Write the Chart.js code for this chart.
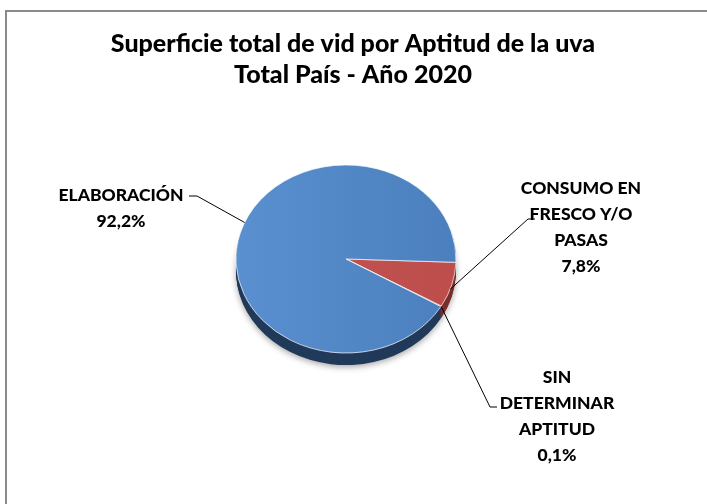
<!DOCTYPE html>
<html>
<head>
<meta charset="utf-8">
<script src="https://cdn.jsdelivr.net/npm/chart.js@4"></script>
<style>
  html, body { margin: 0; padding: 0; background: #fff; }
</style>
</head>
<body>
<canvas id="pieChart" width="707" height="504"></canvas>
<script>
const categories = [['CONSUMO EN', 'FRESCO Y/O', 'PASAS'], ['SIN', 'DETERMINAR', 'APTITUD'], ['ELABORACIÓN']];
const shares = [7.8, 0.1, 92.2];
const titleLines = ['Superficie total de vid por Aptitud de la uva', 'Total País - Año 2020'];

const FONT = 'Lato, "Noto Sans", sans-serif';
const TILT = 0.855;
const DEPTH = 12;

const topColors = [['#C65451', '#BD4E4B'], ['#C65451', '#BD4E4B'], ['#5A90D0', '#4B7FBD']];
const sideColors = ['#7A2E2C', '#7A2E2C', '#213A5A'];

// text centre (first line), elbow of leader, end of leader, where on the slice it starts
const labelLayout = [
    { x: 581, y: 188, elbow: [528, 219], end: [535, 219], frac: 0.6 },
    { x: 557, y: 377, elbow: [490, 407], end: [497, 407], frac: 0.5 },
    { x: 121, y: 195, elbow: [197, 196], end: [189, 196], frac: 0.52 },
];
const LINE_PITCH = 26;

const squash = (ctx, cx, cy) => {
    ctx.translate(cx, cy);
    ctx.scale(1, TILT);
    ctx.translate(-cx, -cy);
};

const slicePath = (ctx, arc) => {
    ctx.beginPath();
    ctx.moveTo(arc.x, arc.y);
    ctx.arc(arc.x, arc.y, arc.outerRadius, arc.startAngle, arc.endAngle);
    ctx.closePath();
};

const pie3d = {
    id: 'pie3d',
    beforeDatasetsDraw(chart) {
        const { ctx } = chart;
        const arcs = chart.getDatasetMeta(0).data;
        const { x: cx, y: cy } = arcs[0];
        for (let d = DEPTH; d >= 1; d--) {
            ctx.save();
            if (d === DEPTH) {
                ctx.shadowColor = 'rgba(0,0,0,0.35)';
                ctx.shadowBlur = 6;
                ctx.shadowOffsetY = 2;
            }
            ctx.translate(0, d);
            squash(ctx, cx, cy);
            arcs.forEach((arc, i) => {
                slicePath(ctx, arc);
                ctx.fillStyle = sideColors[i];
                ctx.fill();
            });
            ctx.restore();
        }
        ctx.save();
        squash(ctx, cx, cy);
    },
    afterDatasetsDraw(chart) {
        chart.ctx.restore();
    },
    afterDraw(chart) {
        const { ctx } = chart;
        const arcs = chart.getDatasetMeta(0).data;

        ctx.save();
        ctx.fillStyle = '#000';
        ctx.textAlign = 'center';
        ctx.textBaseline = 'middle';
        ctx.font = `900 25px ${FONT}`;
        titleLines.forEach((line, i) => ctx.fillText(line, 353, 44 + i * 31));

        ctx.font = `900 17.5px ${FONT}`;
        arcs.forEach((arc, i) => {
            const lay = labelLayout[i];
            const lines = [...categories[i], shares[i].toFixed(1).replace('.', ',') + '%'];
            lines.forEach((t, k) => ctx.fillText(t, lay.x, lay.y + k * LINE_PITCH));

            const ang = arc.startAngle + (arc.endAngle - arc.startAngle) * lay.frac;
            const r = arc.outerRadius;
            const front = Math.sin(ang) > 0.6 ? DEPTH / 2 : 0;
            const ax = arc.x + Math.cos(ang) * r;
            const ay = arc.y + Math.sin(ang) * r * TILT + front;
            ctx.beginPath();
            ctx.moveTo(ax, ay);
            ctx.lineTo(lay.elbow[0], lay.elbow[1]);
            ctx.lineTo(lay.end[0], lay.end[1]);
            ctx.strokeStyle = '#000';
            ctx.lineWidth = 1;
            ctx.stroke();
        });

        ctx.strokeStyle = '#8a8a8a';
        ctx.lineWidth = 2;
        ctx.strokeRect(6, 11, 720, 520);
        ctx.restore();
    },
};

const faceColor = (context) => {
    const { chart, dataIndex } = context;
    const [c0, c1] = topColors[dataIndex];
    if (!chart.chartArea) return c1;
    const { left, right } = chart.chartArea;
    const g = chart.ctx.createLinearGradient(left, 0, right, 0);
    g.addColorStop(0, c0);
    g.addColorStop(1, c1);
    return g;
};

new Chart(document.getElementById('pieChart'), {
    type: 'pie',
    data: {
        labels: categories.map((c) => c.join(' ')),
        datasets: [
            {
                data: shares,
                backgroundColor: faceColor,
                borderColor: 'rgba(255,255,255,0.75)',
                borderWidth: 1,
            },
        ],
    },
    options: {
        responsive: false,
        animation: false,
        rotation: 92,
        radius: 110,
        layout: { padding: { left: 236, right: 251, top: 149, bottom: 135 } },
        plugins: {
            legend: { display: false },
            tooltip: { enabled: false },
        },
    },
    plugins: [pie3d],
});
</script>
</body>
</html>
